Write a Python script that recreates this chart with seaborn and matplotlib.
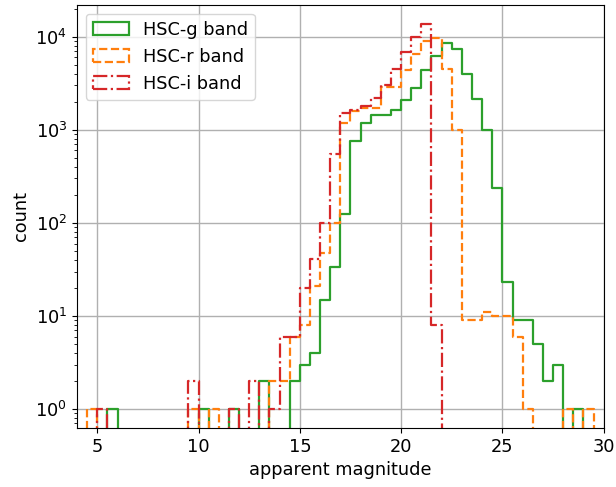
import numpy as np
import pandas as pd
import matplotlib
matplotlib.use("Agg")
import matplotlib.pyplot as plt
from matplotlib.patches import Patch
import seaborn as sns

# bin centres (bin width 0.5 mag)
magnitude = [4.75 + 0.5 * i for i in range(50)]

g_counts = [0, 0, 1, 0, 0, 0, 0, 0, 0, 0,
            0, 1, 0, 0, 1, 0, 0, 2, 0, 0,
            2, 3, 4, 15, 34, 125, 767, 1170, 1460, 1460,
            1650, 2070, 2830, 4380, 6180, 8620, 7430, 3930, 2150, 990,
            238, 23, 9, 9, 5, 2, 3, 0, 1, 0]

r_counts = [1, 0, 0, 0, 0, 0, 0, 0, 0, 0,
            1, 0, 1, 0, 0, 0, 0, 0, 2, 2,
            6, 8, 21, 47, 100, 1170, 1600, 1700, 1720, 2850,
            2850, 4340, 6500, 8900, 9600, 4500, 1000, 9, 9, 11,
            10, 10, 6, 1, 0, 0, 0, 1, 0, 1]

i_counts = [0, 1, 0, 0, 0, 0, 0, 0, 0, 0,
            2, 0, 0, 0, 1, 0, 2, 0, 1, 6,
            6, 20, 41, 100, 550, 1520, 1650, 1820, 2200, 3000,
            4500, 6800, 10000, 13800, 8, 0, 0, 0, 0, 0,
            0, 0, 0, 0, 0, 0, 0, 0, 0, 0]

bands = ["HSC-g band", "HSC-r band", "HSC-i band"]
colors = ["#2ca02c", "#ff7f0e", "#d62728"]
styles = ["-", "--", "-."]

plt.rcParams["font.size"] = 12.8

fig, ax = plt.subplots(figsize=(6.16, 4.87), dpi=100)
for counts, col, ls in zip([g_counts, r_counts, i_counts], colors, styles):
    df = pd.DataFrame({"mag": magnitude, "n": counts})
    sns.histplot(data=df, x="mag", weights="n", binwidth=0.5, binrange=(4.0, 30.0),
                 element="step", fill=False, color=col, linestyle=ls,
                 linewidth=1.6, ax=ax)

ax.set_yscale("log")
ax.set_xlim(4, 30)
ax.set_ylim(0.625, 22000)
ax.set_xticks([5, 10, 15, 20, 25, 30])
ax.grid(True, which="major", color="#b0b0b0", linewidth=1.0)
ax.set_axisbelow(True)
ax.set_xlabel("apparent magnitude")
ax.set_ylabel("count")

handles = [Patch(facecolor="none", edgecolor=c, linestyle=ls, linewidth=1.6, label=b)
           for b, c, ls in zip(bands, colors, styles)]
ax.legend(handles=handles, loc="upper left")

fig.subplots_adjust(left=0.125, right=0.98, top=0.99, bottom=0.121)
fig.savefig("out.png", dpi=100)
